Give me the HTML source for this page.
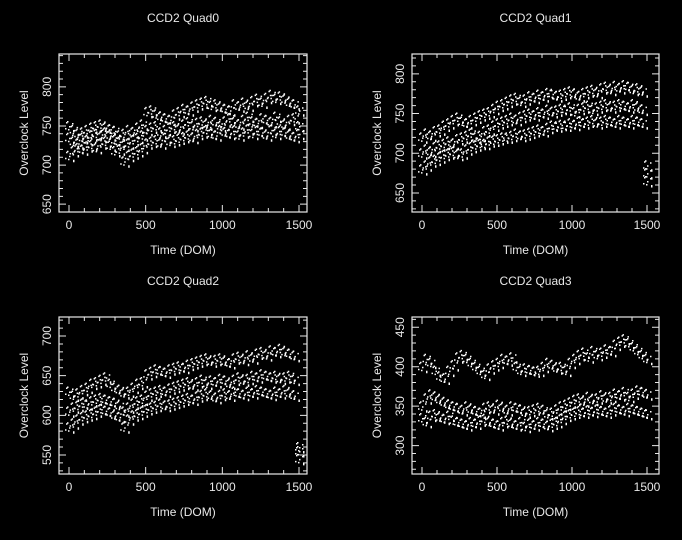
<!DOCTYPE html>
<html><head><meta charset="utf-8"><style>
html,body{margin:0;padding:0;background:#000;width:682px;height:540px;overflow:hidden}
svg{display:block}
text{font-family:"Liberation Sans",sans-serif;fill:#e8e8e8;font-size:12px}
</style></head><body>
<svg id="chart" width="682" height="540" viewBox="0 0 682 540"></svg>
<script>
const days=[];for(let t=0;t<=1500;t+=30)days.push(t);
const titles=["CCD2 Quad0","CCD2 Quad1","CCD2 Quad2","CCD2 Quad3"];
const xTicks=[0,500,1000,1500];
const yTicks0=[650,700,750,800];
const yTicks1=[650,700,750,800];
const yTicks2=[550,600,650,700];
const yTicks3=[300,350,400,450];
const q0Low=[712,718,722,720,724,726,722,728,730,725,718,720,705,712,715,718,722,728,730,732,728,735,730,732,734,736,738,735,740,742,745,740,738,745,742,740,744,738,742,746,740,744,742,738,745,740,744,742,738,736,740];
const q0Mid=[735,730,728,735,732,738,740,736,742,738,732,730,725,728,732,735,738,745,748,750,742,745,748,750,746,752,755,750,754,756,752,758,755,750,756,760,755,752,758,762,756,754,760,758,755,762,756,752,758,760,750];
const q0High=[750,745,740,742,745,748,750,752,748,746,744,738,740,745,742,748,752,768,770,765,762,760,758,765,768,772,770,775,778,780,782,776,778,774,772,770,778,775,780,776,782,785,780,786,790,785,788,784,780,778,770];
const q1Low=[680,685,690,692,695,698,700,702,698,700,705,708,710,712,712,715,716,718,720,720,722,725,722,724,726,728,730,728,732,735,734,736,735,738,736,740,738,740,742,738,740,742,740,738,742,740,738,742,740,738,665];
const q1Mid=[700,705,702,708,710,712,715,712,718,720,722,725,720,722,728,730,735,738,740,742,745,742,746,748,750,748,752,750,755,752,754,756,755,758,752,756,758,760,755,758,760,762,758,760,762,760,758,762,758,755,675];
const q1High=[720,725,722,728,730,735,738,742,745,740,738,742,745,748,750,752,756,760,762,765,768,770,765,768,772,770,774,772,776,775,772,774,776,778,775,772,776,778,780,776,782,784,780,785,782,786,784,780,782,778,685];
const q2Low=[585,590,595,598,600,602,605,608,606,604,600,598,585,595,600,602,605,608,610,612,615,612,614,616,618,620,622,620,624,626,628,625,622,626,628,625,630,628,626,630,628,632,630,628,626,630,628,632,628,625,545];
const q2Mid=[605,610,612,615,614,618,620,622,620,618,616,612,605,610,615,618,620,625,628,630,632,630,634,636,638,640,642,638,642,645,640,644,642,646,644,640,645,648,644,646,650,648,652,650,648,650,646,648,650,645,555];
const q2High=[630,625,628,632,635,640,642,645,648,640,635,632,628,630,635,640,642,652,655,658,656,654,658,660,662,660,664,666,668,670,672,668,670,672,668,666,672,674,670,676,672,678,680,676,682,680,684,680,678,675,560];
const q3Low=[335,330,338,340,336,334,338,332,330,328,326,330,328,332,334,330,328,326,330,332,328,326,330,324,328,326,330,328,325,328,330,334,338,340,342,344,342,345,343,346,344,342,345,348,346,344,348,346,344,342,340];
const q3Mid=[350,360,365,362,358,355,352,350,348,345,350,346,344,342,348,350,346,352,348,345,350,348,346,342,344,346,348,345,340,342,346,350,352,355,358,360,356,362,358,360,364,360,362,366,364,368,362,366,370,368,365];
const q3High=[400,410,405,395,388,385,395,402,412,415,410,405,400,395,390,398,402,405,410,408,412,400,395,398,396,394,395,400,405,402,398,400,395,405,410,415,418,412,420,415,418,422,420,428,432,435,430,425,420,415,410];

const panels=[
 {fx:59,fy:54,fw:248,fh:158,x0:69,x1:299,yMin:640,yMax:842,ticks:yTicks0,series:[q0Low,q0Mid,q0High]},
 {fx:412,fy:54,fw:247,fh:158,x0:422,x1:647,yMin:626,yMax:825,ticks:yTicks1,series:[q1Low,q1Mid,q1High]},
 {fx:59,fy:317,fw:248,fh:157,x0:69,x1:299,yMin:526,yMax:724,ticks:yTicks2,series:[q2Low,q2Mid,q2High]},
 {fx:412,fy:317,fw:247,fh:157,x0:422,x1:647,yMin:264,yMax:463,ticks:yTicks3,series:[q3Low,q3Mid,q3High]}
];
// fixed marker glyph: small cluster of dots representing the scatter density around each sampled value
const glyph='h1.5v1.5h-1.5zm-3 -4h1.5v1.5h-1.5zm6 1h1.5v1.5h-1.5zm-4 6h1.5v1.5h-1.5zm5 1h1.5v1.5h-1.5zm-8 -2h1.5v1.5h-1.5zm2 -7h1.5v1.5h-1.5zm6 10h1.5v1.5h-1.5z';
const svg=document.getElementById('chart');
const NS='http://www.w3.org/2000/svg';
function mk(tag,attrs){const e=document.createElementNS(NS,tag);for(const k in attrs)e.setAttribute(k,attrs[k]);return e;}
panels.forEach((p,i)=>{
 const g=mk('g',{});
 
 
 svg.appendChild(g);
 const xs=v=>p.x0+(v/1500)*(p.x1-p.x0);
 const ys=v=>p.fy+p.fh-(v-p.yMin)/(p.yMax-p.yMin)*p.fh;
 const fr=mk('rect',{x:p.fx,y:p.fy,width:p.fw,height:p.fh,fill:'none',stroke:'#e8e8e8','stroke-width':1.2});
 
 
 g.appendChild(fr);
 const cx=p.fx+p.fw/2;
 const t=mk('text',{x:cx,y:p.fy-32,'text-anchor':'middle'});t.textContent=titles[i];
 
 
 g.appendChild(t);
 const xt=mk('text',{x:cx,y:p.fy+p.fh+42,'text-anchor':'middle'});xt.textContent='Time (DOM)';
 
 
 g.appendChild(xt);
 const yc=p.fy+p.fh/2;const yx=p.fx-31;
 const yt=mk('text',{x:yx,y:yc,'text-anchor':'middle',transform:`rotate(-90 ${yx} ${yc})`});yt.textContent='Overclock Level';
 
 
 g.appendChild(yt);
 let d='';
 for(let v=0;v<=1500;v+=100){const x=xs(v);const L=(v%500===0)?7:4;d+=`M${x} ${p.fy+p.fh}v${-L}M${x} ${p.fy}v${L}`;}
 for(let v=Math.ceil(p.yMin/10)*10;v<=p.yMax;v+=10){const y=ys(v);const L=(v%50===0)?7:4;d+=`M${p.fx} ${y}h${L}M${p.fx+p.fw} ${y}h${-L}`;}
 const tk=mk('path',{d:d,stroke:'#e8e8e8','stroke-width':1,fill:'none'});
 
 
 g.appendChild(tk);
 xTicks.forEach(v=>{const l=mk('text',{x:xs(v),y:p.fy+p.fh+17,'text-anchor':'middle'});l.textContent=v;
  
  
  g.appendChild(l);});
 p.ticks.forEach(v=>{const y=ys(v);const x=p.fx-8;const l=mk('text',{x:x,y:y,'text-anchor':'middle',transform:`rotate(-90 ${x} ${y})`});l.textContent=v;
  
  
  g.appendChild(l);});
 p.series.forEach((s,si)=>{s.forEach((v,k)=>{
  const px=Math.max(p.fx+5,Math.min(p.fx+p.fw-6,xs(days[k])));
  const r=mk('path',{d:`M${px.toFixed(1)} ${ys(v).toFixed(1)}`+glyph,fill:'#fff'});
  
  
  g.appendChild(r);});});
});
</script>
</body></html>
